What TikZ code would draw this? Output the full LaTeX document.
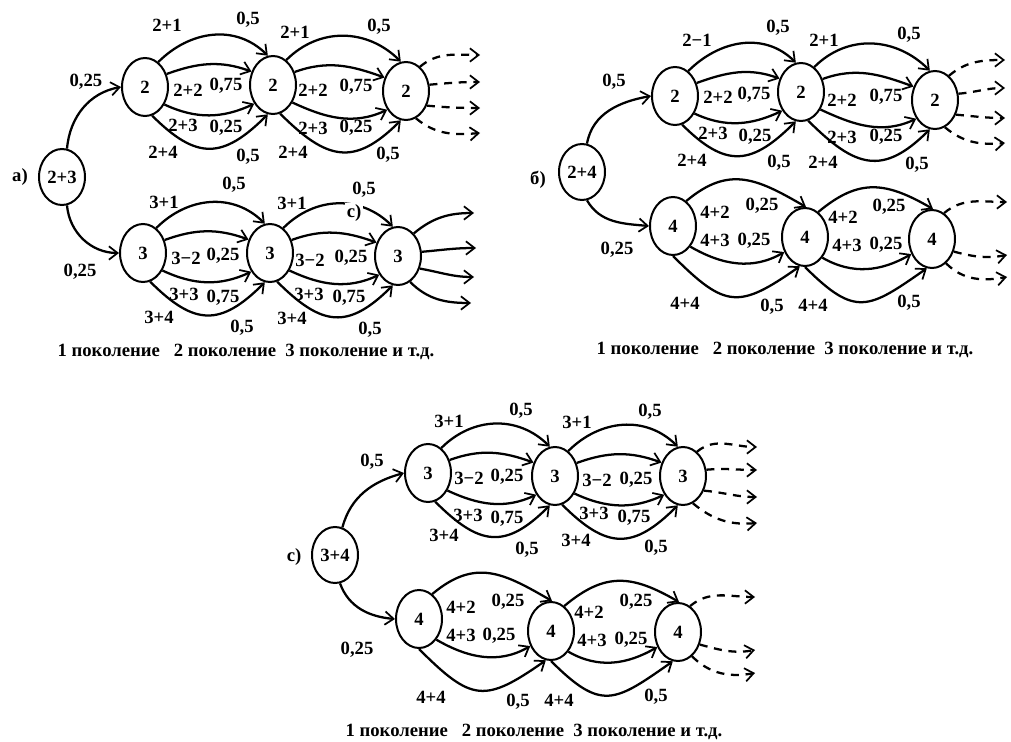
\documentclass[tikz,border=0pt]{standalone}
\usepackage{fontspec}
\setmainfont{Liberation Serif}
\usetikzlibrary{shapes.geometric,arrows.meta,calc}

\tikzset{
  st/.style={ellipse,draw,line width=1.5pt,minimum width=34.5pt,minimum height=43.5pt,
             inner sep=0pt,font=\fontsize{14}{16}\selectfont\bfseries},
  lab/.style={inner sep=0pt,font=\fontsize{14}{16}\selectfont\bfseries},
  capline/.style={inner sep=0pt,font=\fontsize{14}{16}\selectfont\bfseries},
  arr/.style={line width=1.7pt,-{Straight Barb[length=6.5pt,width=10pt,line width=1.3pt]}},
  dsh/.style={arr,dash pattern=on 6pt off 5pt},
}

% four transitions between neighbouring generations
\newcommand\fourarcs[2]{%
  \draw[arr] (#1.62) to[out=45,in=135,looseness=1.05] (#2.100);
  \draw[arr] (#1.31) to[out=20,in=160] (#2.148);
  \draw[arr] (#1.-42) to[out=-25,in=205] (#2.-135);
  \draw[arr] (#1.-76) to[out=-45,in=-135,looseness=1.4] (#2.-100);
}
% three transitions between neighbouring generations
\newcommand\threearcs[2]{%
  \draw[arr] (#1.62) to[out=40,in=150,looseness=1.2] (#2.88);
  \draw[arr] (#1.-50) to[out=-30,in=210] (#2.-144);
  \draw[arr] (#1.-90) to[out=-45,in=-145,looseness=1.5] (#2.-100);
}

\begin{document}
\begin{tikzpicture}[x=0.75pt,y=0.75pt]
\fill[white] (0,0) rectangle (1011,-742);
\useasboundingbox (0,0) rectangle (1011,-742);

% ---------------- panel а ----------------
\node[lab] (pa) at (20,-177) {а)};
\node[st,minimum height=42pt] (ar) at (62,-177) {2+3};
\node[st] (at1) at (145,-87) {2};
\node[st] (at2) at (273,-85) {2};
\node[st] (at3) at (406,-91) {2};
\node[st] (ab1) at (143,-253) {3};
\node[st] (ab2) at (270,-253) {3};
\node[st] (ab3) at (398,-256) {3};

\draw[arr] (ar.80) to[out=85,in=190] (at1.west);
\draw[arr] (ar.-80) to[out=-85,in=180] (ab1.west);
\fourarcs{at1}{at2}
\fourarcs{at2}{at3}
\fourarcs{ab1}{ab2}
\fourarcs{ab2}{ab3}

\coordinate (ao1) at (480,-55);
\coordinate (ao2) at (480,-82);
\coordinate (ao3) at (480,-108);
\coordinate (ao4) at (480,-133);
\draw[dsh] (at3.60) to[out=40,in=180] (ao1);
\draw[dsh] (at3.15) to[out=5,in=180] (ao2);
\draw[dsh] (at3.-35) to[out=-5,in=180] (ao3);
\draw[dsh] (at3.-70) to[out=-40,in=185] (ao4);

\coordinate (bo1) at (474,-213);
\coordinate (bo2) at (476,-248);
\coordinate (bo3) at (474,-277);
\coordinate (bo4) at (471,-303);
\draw[arr] (ab3.55) to[out=40,in=180] (bo1);
\draw[arr] (ab3.10) to[out=5,in=180] (bo2);
\draw[arr] (ab3.-30) to[out=-10,in=180] (bo3);
\draw[arr] (ab3.-65) to[out=-45,in=180] (bo4);

\foreach \t/\x/\y [count=\i] in {
  {0,25}/86/82,
  2+1/167/25, {0,5}/248/20, 2+2/188/90, {0,75}/226/86,
  2+3/183/125, {0,25}/226/128, 2+4/163/152, {0,5}/248/157,
  2+1/295/32, {0,5}/379/27, 2+2/313/90, {0,75}/356/87,
  2+3/313/128, {0,25}/356/128, 2+4/293/152, {0,5}/388/155,
  {0,25}/80/272,
  3+1/164/202, {0,5}/234/185, 3−2/186/258, {0,25}/223/256,
  3+3/184/294, {0,75}/223/298, 3+4/159/317, {0,5}/242/328,
  3+1/292/203, {0,5}/364/190, 3−2/310/260, {0,25}/351/258,
  3+3/309/294, {0,75}/349/298, 3+4/292/318, {0,5}/370/330}
  \node[lab] (la\i) at (\x,-\y) {\t};
\node[lab,fill=white,inner sep=1pt] (pc2) at (354,-213) {с)};

\node[capline] (capa) at (246,-352) {1 поколение\ \ \ 2 поколение\ \ 3 поколение и т.д.};

% ---------------- panel б ----------------
\node[lab] (pb) at (538,-180) {б)};
\node[st,minimum height=42pt] (br) at (582,-172) {2+4};
\node[st] (bt1) at (675,-96) {2};
\node[st] (bt2) at (801,-92) {2};
\node[st] (bt3) at (935,-100) {2};
\node[st] (bb1) at (673,-226) {4};
\node[st] (bb2) at (805,-237) {4};
\node[st] (bb3) at (932,-239) {4};

\draw[arr] (br.80) to[out=80,in=190] (bt1.west);
\draw[arr] (br.-80) to[out=-60,in=175] (bb1.west);
\fourarcs{bt1}{bt2}
\fourarcs{bt2}{bt3}
\threearcs{bb1}{bb2}
\threearcs{bb2}{bb3}

\coordinate (co1) at (1005,-60);
\coordinate (co2) at (1005,-88);
\coordinate (co3) at (1005,-118);
\coordinate (co4) at (1005,-143);
\draw[dsh] (bt3.60) to[out=40,in=180] (co1);
\draw[dsh] (bt3.15) to[out=5,in=180] (co2);
\draw[dsh] (bt3.-35) to[out=-5,in=180] (co3);
\draw[dsh] (bt3.-70) to[out=-40,in=185] (co4);

\coordinate (do1) at (1007,-202);
\coordinate (do2) at (1007,-255);
\coordinate (do3) at (1007,-277);
\draw[dsh] (bb3.65) to[out=40,in=180] (do1);
\draw[dsh] (bb3.-30) to[out=-15,in=190] (do2);
\draw[dsh] (bb3.-60) to[out=-45,in=190] (do3);

\foreach \t/\x/\y [count=\i] in {
  {0,5}/614/82,
  2−1/697/40, {0,5}/778/28, 2+2/718/97, {0,75}/754/95,
  2+3/713/133, {0,25}/755/137, 2+4/692/160, {0,5}/779/163,
  2+1/824/40, {0,5}/909/35, 2+2/842/100, {0,75}/886/97,
  2+3/842/137, {0,25}/886/137, 2+4/823/162, {0,5}/917/165,
  {0,25}/617/250,
  4+2/715/212, {0,25}/762/206, 4+3/715/240, {0,25}/754/241,
  4+4/685/303, {0,5}/772/307,
  4+2/843/217, {0,25}/889/207, 4+3/847/245, {0,25}/886/245,
  4+4/813/305, {0,5}/909/303}
  \node[lab] (lb\i) at (\x,-\y) {\t};

\node[capline] (capb) at (785,-350) {1 поколение\ \ \ 2 поколение\ \ 3 поколение и т.д.};

% ---------------- panel с ----------------
\node[lab] (pc) at (294,-557) {с)};
\node[st,minimum height=42pt] (cr) at (335,-555) {3+4};
\node[st] (ct1) at (428,-473) {3};
\node[st] (ct2) at (555,-476) {3};
\node[st] (ct3) at (683,-476) {3};
\node[st] (cb1) at (419,-619) {4};
\node[st] (cb2) at (551,-631) {4};
\node[st] (cb3) at (678,-632) {4};

\draw[arr] (cr.75) to[out=75,in=195] (ct1.west);
\draw[arr] (cr.-80) to[out=-70,in=175] (cb1.west);
\fourarcs{ct1}{ct2}
\fourarcs{ct2}{ct3}
\threearcs{cb1}{cb2}
\threearcs{cb2}{cb3}

\coordinate (eo1) at (757,-447);
\coordinate (eo2) at (757,-470);
\coordinate (eo3) at (757,-497);
\coordinate (eo4) at (757,-523);
\draw[dsh] (ct3.60) to[out=40,in=180] (eo1);
\draw[dsh] (ct3.15) to[out=5,in=180] (eo2);
\draw[dsh] (ct3.-35) to[out=-5,in=180] (eo3);
\draw[dsh] (ct3.-70) to[out=-40,in=185] (eo4);

\coordinate (fo1) at (755,-597);
\coordinate (fo2) at (755,-650);
\coordinate (fo3) at (755,-673);
\draw[dsh] (cb3.65) to[out=40,in=180] (fo1);
\draw[dsh] (cb3.-30) to[out=-15,in=190] (fo2);
\draw[dsh] (cb3.-60) to[out=-45,in=190] (fo3);

\foreach \t/\x/\y [count=\i] in {
  {0,5}/372/462,
  3+1/449/421, {0,5}/521/411, 3−2/469/478, {0,25}/507/477,
  3+3/468/515, {0,75}/507/519, 3+4/444/535, {0,5}/527/550,
  3+1/577/422, {0,5}/650/412, 3−2/597/480, {0,25}/636/480,
  3+3/594/513, {0,75}/634/518, 3+4/576/540, {0,5}/656/548,
  {0,25}/357/650,
  4+2/461/607, {0,25}/508/602, 4+3/461/635, {0,25}/499/636,
  4+4/431/697, {0,5}/518/702,
  4+2/589/612, {0,25}/636/602, 4+3/592/640, {0,25}/631/640,
  4+4/559/700, {0,5}/656/697}
  \node[lab] (lc\i) at (\x,-\y) {\t};

\node[capline] (capc) at (534,-732) {1 поколение\ \ \ 2 поколение\ \ 3 поколение и т.д.};
\end{tikzpicture}
\end{document}
